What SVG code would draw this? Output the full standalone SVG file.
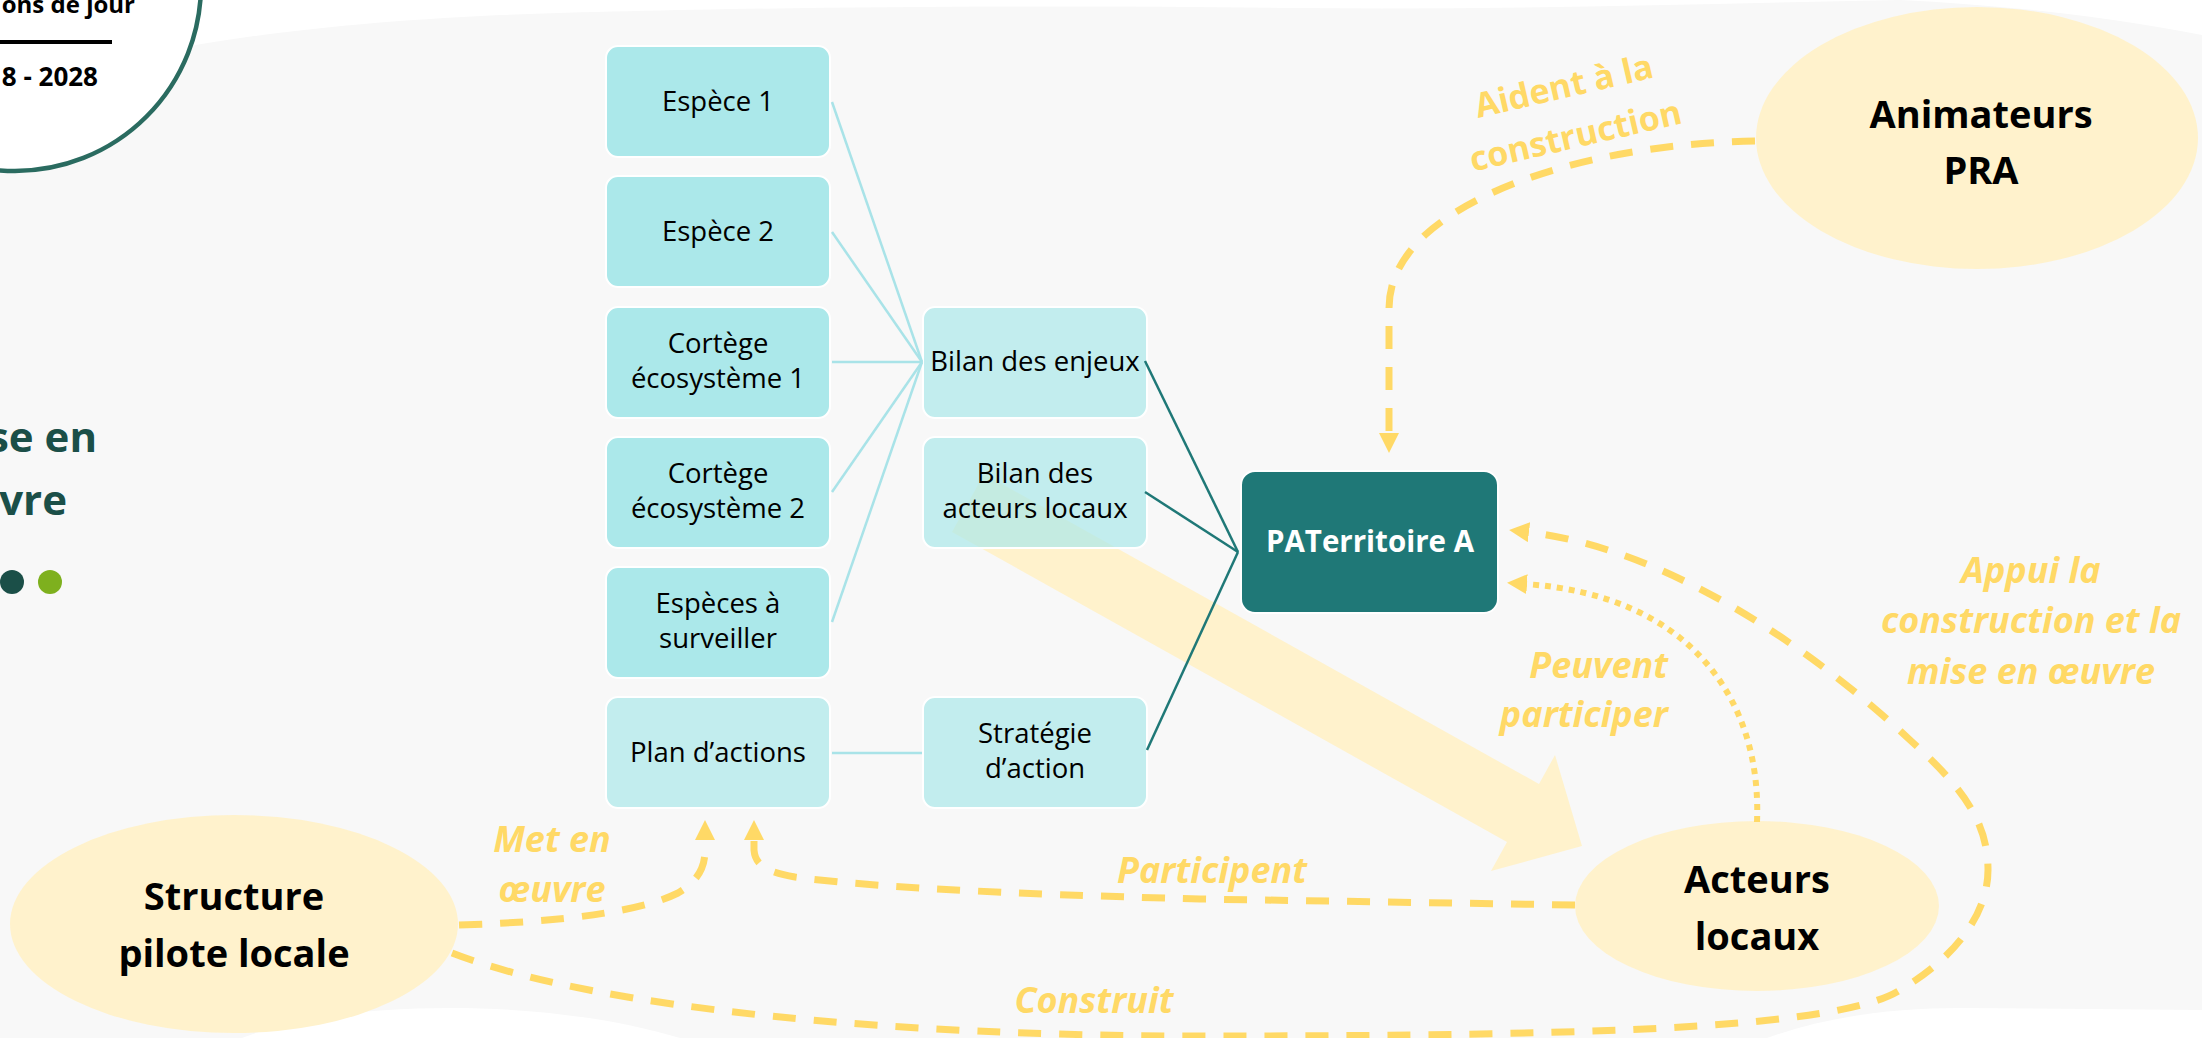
<svg xmlns="http://www.w3.org/2000/svg" width="2202" height="1038" viewBox="0 0 2202 1038">
<defs>
<style>
.box{fill:#ABE8EA;stroke:#FFFFFF;stroke-width:2}
.boxl{fill:#ABE8EA;fill-opacity:0.7;stroke:#FFFFFF;stroke-width:2}
.bt{font-family:"Open Sans","Liberation Sans",sans-serif;font-size:27.5px;fill:#000;text-anchor:middle}
.ell{fill:#FFF2CC}
.et{font-family:"Open Sans","Liberation Sans",sans-serif;font-size:38px;font-weight:bold;fill:#000;text-anchor:middle}
.lab{font-family:"Open Sans","Liberation Sans",sans-serif;font-size:36px;font-weight:bold;font-style:italic;fill:#FFD966;text-anchor:middle}
.cl{stroke:#A9E3E8;stroke-width:2.5;fill:none}
.tl{stroke:#1F7877;stroke-width:2.5;fill:none}
.dash{stroke:#FFD966;stroke-width:7;fill:none;stroke-dasharray:23 18}
.dot{stroke:#FFD966;stroke-width:6;fill:none;stroke-dasharray:6 6}
</style>
<marker id="ah" markerUnits="userSpaceOnUse" markerWidth="20" markerHeight="20" viewBox="0 0 20 20" refX="2" refY="10" orient="auto"><path d="M0,0 L20,10 L0,20 Z" fill="#FFD966"/></marker>
</defs>
<rect x="0" y="0" width="2202" height="1038" fill="#F8F8F8"/>
<path d="M0,0 L1900,0 C1700,4 1500,10 1300,8 C1000,4 700,8 500,15 C350,22 250,35 180,48 L0,60 Z" fill="#FFFFFF"/>
<path d="M1900,0 L2202,0 L2202,35 C2100,15 2000,5 1900,0 Z" fill="#FFFFFF"/>
<path d="M242,1038 C300,1015 380,1008 450,1008 C540,1008 620,1020 680,1038 Z" fill="#FFFFFF"/>
<path d="M1767,1038 C1830,1015 1900,1008 1960,1008 L2202,1010 L2202,1038 Z" fill="#FFFFFF"/>

<g id="header">
<circle cx="15" cy="-15" r="186" fill="#FFFFFF" stroke="#2A6B60" stroke-width="4.5"/>
<text x="135" y="13" font-family="Open Sans, Liberation Sans, sans-serif" font-size="24" font-weight="bold" text-anchor="end" fill="#000">ons de jour</text>
<line x1="0" y1="42" x2="112" y2="42" stroke="#000" stroke-width="4"/>
<text x="98" y="86" font-family="Open Sans, Liberation Sans, sans-serif" font-size="26" font-weight="bold" text-anchor="end" fill="#000">8 - 2028</text>
<text x="97" y="452" font-family="Open Sans, Liberation Sans, sans-serif" font-size="42" font-weight="bold" text-anchor="end" fill="#1B4F48">se en</text>
<text x="67" y="515" font-family="Open Sans, Liberation Sans, sans-serif" font-size="42" font-weight="bold" text-anchor="end" fill="#1B4F48">vre</text>
<circle cx="12" cy="582" r="12" fill="#1B4F48"/>
<circle cx="50" cy="582" r="12" fill="#7EB01E"/>
</g>

<g id="big-arrow">
<polygon points="984,474 1539,784 1555,755 1582,846 1491,871 1507,842 952,532" fill="#FFF2CC"/>
</g>

<g id="espece1"><rect class="box" x="606" y="46" width="224" height="111" rx="12"/><text class="bt" x="718" y="111">Espèce 1</text></g>
<g id="espece2"><rect class="box" x="606" y="176" width="224" height="111" rx="12"/><text class="bt" x="718" y="241">Espèce 2</text></g>
<g id="cortege1"><rect class="box" x="606" y="307" width="224" height="111" rx="12"/><text class="bt" x="718" y="353">Cortège</text><text class="bt" x="718" y="388">écosystème 1</text></g>
<g id="cortege2"><rect class="box" x="606" y="437" width="224" height="111" rx="12"/><text class="bt" x="718" y="483">Cortège</text><text class="bt" x="718" y="518">écosystème 2</text></g>
<g id="especes-surveiller"><rect class="box" x="606" y="567" width="224" height="111" rx="12"/><text class="bt" x="718" y="613">Espèces à</text><text class="bt" x="718" y="648">surveiller</text></g>
<g id="plan-actions"><rect class="boxl" x="606" y="697" width="224" height="111" rx="12"/><text class="bt" x="718" y="762">Plan d’actions</text></g>
<g id="bilan-enjeux"><rect class="boxl" x="923" y="307" width="224" height="111" rx="12"/><text class="bt" x="1035" y="371">Bilan des enjeux</text></g>
<g id="bilan-acteurs"><rect class="boxl" x="923" y="437" width="224" height="111" rx="12"/><text class="bt" x="1035" y="483">Bilan des</text><text class="bt" x="1035" y="518">acteurs locaux</text></g>
<g id="strategie"><rect class="boxl" x="923" y="697" width="224" height="111" rx="12"/><text class="bt" x="1035" y="743">Stratégie</text><text class="bt" x="1035" y="778">d’action</text></g>
<g id="paterritoire"><rect x="1241" y="471" width="257" height="142" rx="14" fill="#1F7877" stroke="#FFFFFF" stroke-width="2"/><text x="1370" y="552" font-family="Open Sans, Liberation Sans, sans-serif" font-size="29.5" font-weight="bold" text-anchor="middle" fill="#FFFFFF">PATerritoire A</text></g>

<g id="animateurs"><ellipse class="ell" cx="1977" cy="138" rx="221" ry="131"/><text class="et" x="1981" y="128">Animateurs</text><text class="et" x="1981" y="184">PRA</text></g>
<g id="acteurs"><ellipse class="ell" cx="1757" cy="906" rx="182" ry="85"/><text class="et" x="1757" y="893">Acteurs</text><text class="et" x="1757" y="950">locaux</text></g>
<g id="structure"><ellipse class="ell" cx="234" cy="924" rx="224" ry="109"/><text class="et" x="234" y="910">Structure</text><text class="et" x="234" y="967">pilote locale</text></g>

<g id="connectors">
<line class="cl" x1="832" y1="102" x2="922" y2="362"/>
<line class="cl" x1="832" y1="232" x2="922" y2="362"/>
<line class="cl" x1="832" y1="362" x2="922" y2="362"/>
<line class="cl" x1="832" y1="492" x2="922" y2="362"/>
<line class="cl" x1="832" y1="622" x2="922" y2="362"/>
<line class="cl" x1="832" y1="753" x2="922" y2="753"/>
<line class="tl" x1="1145" y1="361" x2="1238" y2="552"/>
<line class="tl" x1="1145" y1="492" x2="1238" y2="552"/>
<line class="tl" x1="1147" y1="750" x2="1238" y2="552"/>
<path class="dash" d="M1755,141 C1600,144 1480,185 1425,235 C1397,262 1389,285 1389,310 L1389,435" marker-end="url(#ah)"/>
<path class="dash" d="M459,925 C560,922 640,912 678,893 C700,880 705,865 705,850 L705,838" marker-end="url(#ah)"/>
<path class="dash" d="M1575,905 L1200,899 C1000,894 860,886 795,877 C765,872 755,864 754,850 L754,838" marker-end="url(#ah)"/>
<path class="dot" d="M1757,822 C1762,700 1690,595 1525,584" marker-end="url(#ah)"/>
<path class="dash" d="M452,953 C600,1010 900,1036 1200,1036 C1600,1036 1840,1028 1900,990 C1960,955 1988,910 1988,870 C1988,820 1960,785 1910,740 C1830,665 1680,550 1527,532" marker-end="url(#ah)"/>
</g>

<g id="labels">
<g transform="translate(1572,121) rotate(-13)">
<text x="0" y="-24" font-family="Open Sans, Liberation Sans, sans-serif" font-size="34" font-weight="bold" text-anchor="middle" fill="#FFD966">Aident à la</text>
<text x="0" y="27" font-family="Open Sans, Liberation Sans, sans-serif" font-size="34" font-weight="bold" text-anchor="middle" fill="#FFD966">construction</text>
</g>
<text class="lab" x="1668" y="678" style="text-anchor:end">Peuvent</text>
<text class="lab" x="1668" y="727" style="text-anchor:end">participer</text>
<text class="lab" x="2031" y="583">Appui la</text>
<text class="lab" x="2031" y="633">construction et la</text>
<text class="lab" x="2031" y="684">mise en œuvre</text>
<text class="lab" x="552" y="852">Met en</text>
<text class="lab" x="552" y="902">œuvre</text>
<text class="lab" x="1212" y="883">Participent</text>
<text class="lab" x="1094" y="1013">Construit</text>
</g>
</svg>
